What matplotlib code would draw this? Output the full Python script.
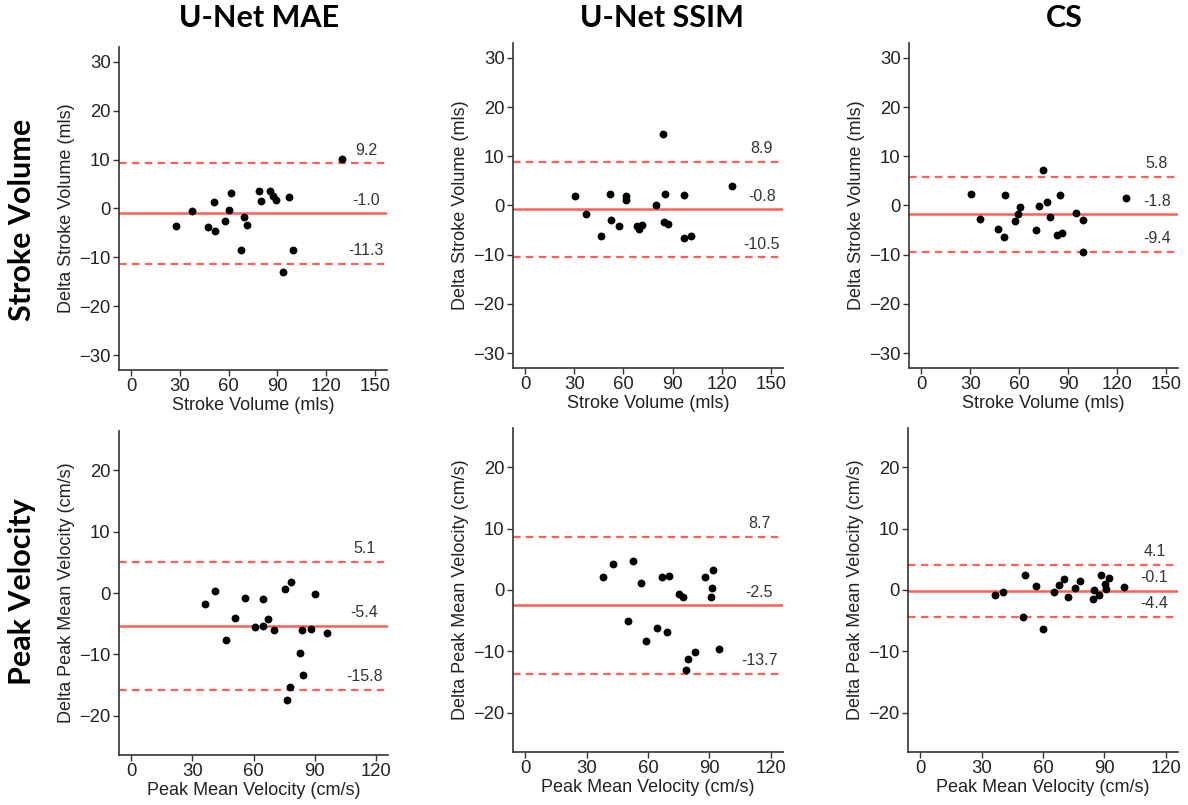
import matplotlib
matplotlib.use("Agg")
import matplotlib.pyplot as plt

# ---------------- DATA ----------------
methods = ["U-Net MAE", "U-Net SSIM", "CS"]
rows = ["Stroke Volume", "Peak Velocity"]

# Stroke volume: mean (x) and difference (y)
sv_mae_x = [129.7, 27.5, 37.5, 47.4, 50.7, 51.7, 57.6, 60.5, 61.5, 67.8,
            69.6, 71.0, 78.4, 80.2, 85.3, 87.3, 89.2, 96.9, 93.6, 99.7]
sv_mae_y = [10.2, -3.5, -0.5, -3.7, 1.3, -4.5, -2.6, -0.3, 3.2, -8.4,
            -1.8, -3.4, 3.6, 1.5, 3.6, 2.5, 1.8, 2.3, -12.9, -8.4]

sv_ssim_x = [30.6, 36.9, 46.4, 51.5, 52.5, 57.0, 61.3, 61.5, 68.4, 69.8,
             71.2, 79.8, 84.2, 85.2, 84.8, 87.1, 97.0, 97.0, 101.3, 126.6]
sv_ssim_y = [2.0, -1.8, -6.1, 2.4, -2.9, -4.2, 2.0, 1.2, -4.2, -4.7,
             -3.9, 0.2, 14.5, 2.4, -3.4, -3.7, 2.1, -6.5, -6.2, 3.9]

sv_cs_x = [30.6, 36.3, 46.9, 50.7, 51.4, 57.5, 59.3, 60.7, 70.7, 72.1,
           74.4, 77.0, 78.7, 83.3, 85.2, 86.2, 95.2, 99.0, 99.4, 125.7]
sv_cs_y = [2.4, -2.8, -4.7, -6.4, 2.2, -3.2, -1.8, -0.3, -5.0, -0.2,
           7.3, 0.7, -2.3, -6.0, 2.2, -5.5, -1.6, -2.9, -9.5, 1.6]

# Peak mean velocity: mean (x) and difference (y)
pv_mae_x = [36.2, 40.9, 46.3, 50.7, 55.9, 60.8, 64.9, 64.9, 67.0, 69.9,
            75.7, 78.3, 77.8, 76.5, 82.8, 84.0, 84.5, 88.0, 90.0, 96.0]
pv_mae_y = [-1.8, 0.4, -7.7, -4.1, -0.8, -5.5, -0.9, -5.4, -4.3, -6.1,
            0.7, 1.8, -15.3, -17.4, -9.7, -6.1, -13.4, -5.8, -0.1, -6.5]

pv_ssim_x = [38.0, 42.9, 50.4, 52.5, 56.7, 59.2, 64.4, 66.7, 69.4, 70.4,
             75.3, 76.9, 78.8, 79.7, 82.8, 88.1, 90.9, 91.2, 91.9, 94.6]
pv_ssim_y = [2.1, 4.3, -5.0, 4.7, 1.1, -8.3, -6.2, 2.2, -6.9, 2.3,
             -0.7, -1.1, -13.1, -11.2, -10.1, 2.2, -1.1, 0.4, 3.2, -9.6]

pv_cs_x = [36.5, 40.4, 50.4, 51.4, 56.6, 60.2, 65.4, 68.0, 70.2, 72.2,
           75.8, 78.1, 84.6, 85.0, 87.4, 88.2, 90.3, 91.0, 92.3, 99.6]
pv_cs_y = [-0.8, -0.3, -4.4, 2.5, 0.6, -6.4, -0.3, 0.8, 1.8, -1.2,
           0.4, 1.4, -1.5, 0.0, -0.8, 2.4, 0.9, 0.1, 2.0, 0.5]

# bias and limits of agreement (upper, mean, lower)
sv_stats = [(9.2, -1.0, -11.3), (8.9, -0.8, -10.5), (5.8, -1.8, -9.4)]
pv_stats = [(5.1, -5.4, -15.8), (8.7, -2.5, -13.7), (4.1, -0.1, -4.4)]

sv_xticks = [0, 30, 60, 90, 120, 150]
sv_yticks = [-30, -20, -10, 0, 10, 20, 30]
pv_xticks = [0, 30, 60, 90, 120]
pv_yticks = [-20, -10, 0, 10, 20]

# ---------------- LAYOUT (pixels in a 1188x805 image) ----------------
W, H = 1188, 805
# left, right, top, bottom of each axes box
boxes = [
    [(119, 387, 47, 370), (513, 783, 43, 368), (909, 1178, 43, 368)],
    [(119, 388, 431, 755), (513, 783, 428, 752), (908, 1178, 428, 752)],
]
col_title_x = [259, 662, 1064]
row_title_y = [220, 592]

LINE_RED = "#FF5F55"
INK = "#222222"
TITLE_FONT = "Lato"

plt.rcParams["font.family"] = ["Liberation Sans", "DejaVu Sans"]

fig = plt.figure(figsize=(W / 100, H / 100), dpi=100)
fig.patch.set_facecolor("white")

panels = [
    [(sv_mae_x, sv_mae_y), (sv_ssim_x, sv_ssim_y), (sv_cs_x, sv_cs_y)],
    [(pv_mae_x, pv_mae_y), (pv_ssim_x, pv_ssim_y), (pv_cs_x, pv_cs_y)],
]
stats = [sv_stats, pv_stats]


def draw_panel(ax, xs, ys, st, is_sv):
    upper, mean, lower = st
    ax.axhline(mean, color=LINE_RED, lw=1.8, zorder=1)
    for v in (upper, lower):
        ax.axhline(v, color=LINE_RED, lw=1.6, dashes=(3.4, 2.4), zorder=1)
    ax.scatter(xs, ys, s=32, color="black", zorder=3, linewidths=0)

    if is_sv:
        ax.set_xlim(-7.5, 157.5)
        ax.set_ylim(-33, 33)
        ax.set_xticks(sv_xticks)
        ax.set_yticks(sv_yticks)
        lab_x = 144.5
        ax.set_xlabel("Stroke Volume (mls)", fontsize=13, color=INK,
                      labelpad=1)
        ax.set_ylabel("Delta Stroke Volume (mls)", fontsize=13, color=INK,
                      labelpad=3)
    else:
        ax.set_xlim(-6, 126)
        ax.set_ylim(-26.4, 26.4)
        ax.set_xticks(pv_xticks)
        ax.set_yticks(pv_yticks)
        lab_x = 114.5
        ax.set_xlabel("Peak Mean Velocity (cm/s)", fontsize=13, color=INK,
                      labelpad=1)
        ax.set_ylabel("Delta Peak Mean Velocity (cm/s)", fontsize=13,
                      color=INK, labelpad=3)

    for v in (upper, mean, lower):
        ax.annotate(f"{v:.1f}", (lab_x, v), xytext=(0, 9.5),
                    textcoords="offset points", ha="center", va="center",
                    fontsize=11.5, color="#333333")

    for side in ("top", "right"):
        ax.spines[side].set_visible(False)
    for side in ("left", "bottom"):
        ax.spines[side].set_color("#333333")
        ax.spines[side].set_linewidth(1.2)
    ax.tick_params(length=4, width=1, color="#333333", labelsize=13.3,
                   labelcolor=INK, pad=2)


for r in range(2):
    for c in range(3):
        l, rt, t, b = boxes[r][c]
        ax = fig.add_axes([l / W, (H - b) / H, (rt - l) / W, (b - t) / H])
        xs, ys = panels[r][c]
        draw_panel(ax, xs, ys, stats[r][c], r == 0)

for c, name in enumerate(methods):
    fig.text(col_title_x[c] / W, 1 - 18 / H, name, ha="center", va="center",
             fontsize=22, fontweight="bold", family=TITLE_FONT, color="black")

for r, name in enumerate(rows):
    fig.text(22 / W, 1 - row_title_y[r] / H, name, ha="center", va="center",
             rotation=90, fontsize=22, fontweight="bold", family=TITLE_FONT,
             color="black")

fig.savefig("out.png", dpi=100)
